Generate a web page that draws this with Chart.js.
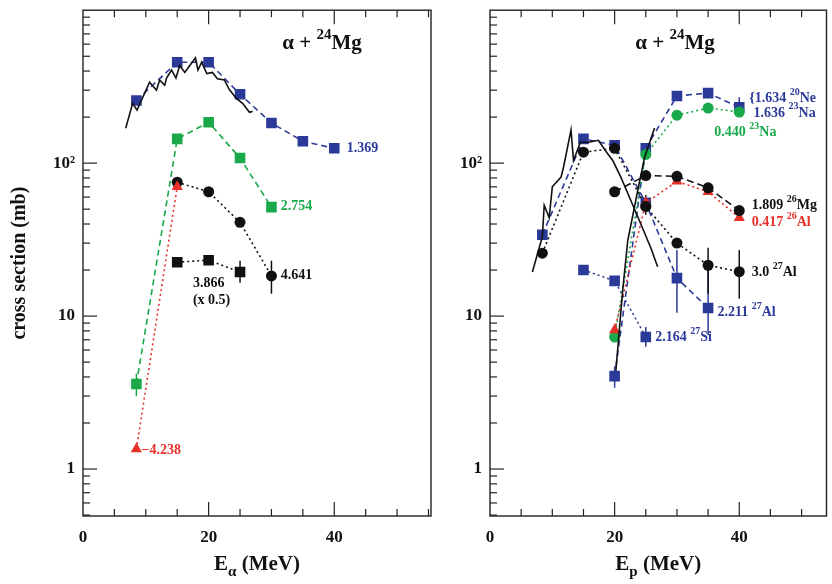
<!DOCTYPE html>
<html><head><meta charset="utf-8">
<script src="https://cdn.jsdelivr.net/npm/chart.js@4/dist/chart.umd.min.js"></script>
<style>
body{margin:0;background:#fff;width:832px;height:584px;position:relative;overflow:hidden}
.p{position:absolute;top:-8px;height:592px}
</style></head><body>
<div class="p" style="left:0;width:440px"><canvas id="c1"></canvas></div>
<div class="p" style="left:440px;width:394px"><canvas id="c2"></canvas></div>
<script>
// ---- Left panel data (alpha + 24Mg) ----
const L_blueX=[8.5,15,20,25,30,35,40], L_blueY=[257,457,457,282,183,139,125];
const L_greenX=[8.5,15,20,25,30], L_greenY=[3.6,144,185,108,51.6];
const L_circX=[15,20,25,30], L_circY=[75,65,41,18.3];
const L_triX=[8.5,15], L_triY=[1.35,70];
const L_sqX=[15,20,25], L_sqY=[22.5,23.2,19.4];
const L_expX=[6.8,7.9,8.6,10.6,11.7,12.2,13.0,13.3,14.1,14.8,15.4,16.2,17.0,17.9,18.3,18.9,19.7,20.6,21.4,22.5,23.3,24.4,25.4,26.5,27];
const L_expY=[169,246,222,338,300,350,323,360,406,360,435,392,435,487,406,457,385,392,356,350,303,265,246,215,218];
// ---- Right panel data (p + ...) ----
const R_ne20X=[20,25,30,35,40], R_ne20Y=[4.05,125,275,287,232];
const R_al27bX=[8.4,15,20,25,30,35], R_al27bY=[34,144,131,55,17.7,11.3];
const R_al27cX=[8.4,15,20,25,30,35,40], R_al27cY=[25.8,118,125,52,30,21.5,19.5];
const R_mg26X=[20,25,30,35,40], R_mg26Y=[65,83,82,69,49];
const R_al26X=[20,25,30,35,40], R_al26Y=[8.1,55,76,65,44];
const R_na23X=[20,25,30,35,40], R_na23Y=[7.3,114,206,229,216];
const R_si27X=[15,20,25], R_si27Y=[20,17,7.3];
const R_exp1X=[6.8,8.4,8.7,9.5,10,11.4,11.8,13,13.4,14.5,15.8,17.4,18.5,19.7,21,22.6,24.2,25.8,26.9];
const R_exp1Y=[19.4,33,53,44,70,81,94,165,104,137,137,141,121,104,81,57,40,28,21];
const R_exp2X=[20.2,21.3,22.1,23.7,24.8,26.4];
const R_exp2Y=[4.4,14.8,31,66,109,170];
const yTicks=[1,10,100];
const xTicks=[0,20,40];

const BLUE='#2b3a98',GREEN='#19a94a',RED='#e6302a',BLK='#111';
const F='"Liberation Serif", "DejaVu Serif", serif';
const zip=(xs,ys)=>xs.map((x,i)=>({x,y:ys[i]}));
const RAD={rect:7.5,circle:5.5,triangle:6.5};
function ds(xs,ys,color,style,dash){
  return {data:zip(xs,ys),showLine:true,borderColor:color,backgroundColor:color,borderWidth:1.6,
    borderDash:dash,pointStyle:style,pointRadius:style?RAD[style]:0,pointBorderWidth:0,fill:false,tension:0};
}
const DOT=[2,3], DASH=[6,4];

function drawRich(ctx,x,y,segs,color){
  ctx.fillStyle=color;ctx.textBaseline='middle';ctx.textAlign='left';
  let cx=x;
  for(const s of segs){
    const t=typeof s==='string'?{t:s}:s;
    const sz=t.sup||t.sub?10:14;
    ctx.font='bold '+sz+'px '+F;
    const dy=t.sup?-6:(t.sub?5:0);
    ctx.fillText(t.t,cx,y+dy);
    cx+=ctx.measureText(t.t).width;
  }
}
function richWidth(ctx,segs,base){
  let w=0;for(const s of segs){const t=typeof s==='string'?{t:s}:s;ctx.font='bold '+((t.sup||t.sub)?Math.round(base*0.7):base)+'px '+F;w+=ctx.measureText(t.t).width;}return w;
}
function drawBig(ctx,cx,y,segs,base){
  const w=richWidth(ctx,segs,base);let x=cx-w/2;ctx.fillStyle='#111';ctx.textBaseline='middle';ctx.textAlign='left';
  for(const s of segs){const t=typeof s==='string'?{t:s}:s;const sz=(t.sup||t.sub)?Math.round(base*0.7):base;
    ctx.font='bold '+sz+'px '+F;ctx.fillText(t.t,x,y+(t.sup?-base*0.4:(t.sub?base*0.35:0)));x+=ctx.measureText(t.t).width;}
}

function panel(id,datasets,xmax,yAxisW,padR,labels,errs,xtitle,showYTitle,titleX){
  const plug={id:'deco'+id,
    beforeDatasetsDraw(ch){
      const c=ch.ctx,xs=ch.scales.x,ys=ch.scales.y;
      c.save();
      for(const e of errs){
        c.strokeStyle=e[3];c.lineWidth=1.5;c.beginPath();
        const px=xs.getPixelForValue(e[0]);c.moveTo(px,ys.getPixelForValue(e[1]));c.lineTo(px,ys.getPixelForValue(e[2]));c.stroke();
      }
      c.restore();
    },
    afterDraw(ch){
      const c=ch.ctx,a=ch.chartArea,xs=ch.scales.x,ys=ch.scales.y;
      c.save();
      c.strokeStyle='#222';c.lineWidth=1.4;c.strokeRect(a.left,a.top,a.right-a.left,a.bottom-a.top);
      c.lineWidth=1.2;
      for(let v=5;v<xmax;v+=5){const p=xs.getPixelForValue(v);const L=(v%20===0)?14:7;
        c.beginPath();c.moveTo(p,a.bottom);c.lineTo(p,a.bottom-L);c.stroke();
        c.beginPath();c.moveTo(p,a.top);c.lineTo(p,a.top+L);c.stroke();}
      for(let d=0.1;d<=1000;d*=10){for(let k=1;k<10;k++){const v=d*k;if(v<=ys.min||v>=ys.max)continue;const p=ys.getPixelForValue(v);const L=k===1?14:7;
        c.beginPath();c.moveTo(a.left,p);c.lineTo(a.left+L,p);c.stroke();}}
      for(const l of labels){drawRich(c,xs.getPixelForValue(l[0]),ys.getPixelForValue(l[1]),l[3],l[2]);}
      drawBig(c,titleX,52,['\u03b1 + ',{t:'24',sup:1},'Mg'],21);
      drawBig(c,(a.left+a.right)/2,573,['E',{t:xtitle,sub:1},' (MeV)'],21);
      if(showYTitle){c.translate(20,(a.top+a.bottom)/2);c.rotate(-Math.PI/2);c.font='bold 20px '+F;c.textAlign='center';c.textBaseline='middle';c.fillStyle='#111';c.fillText('cross section (mb)',0,0);}
      c.restore();
    }};
  return new Chart(document.getElementById(id),{type:'scatter',data:{datasets},
    options:{responsive:true,maintainAspectRatio:false,animation:false,
      layout:{padding:{top:0,right:padR,bottom:0,left:0}},
      plugins:{legend:{display:false},tooltip:{enabled:false}},
      scales:{
        x:{type:'linear',min:0,max:xmax,afterFit(s){s.height=68;},
          afterBuildTicks(s){s.ticks=xTicks.map(v=>({value:v}));},
          grid:{display:false,drawTicks:false},border:{display:false},
          ticks:{padding:11,color:'#111',font:{family:F,size:17,weight:'bold'}}},
        y:{type:'logarithmic',min:0.493,max:1000,afterFit(s){s.width=yAxisW;},
          afterBuildTicks(s){s.ticks=yTicks.map(v=>({value:v}));},
          grid:{display:false,drawTicks:false},border:{display:false},
          ticks:{padding:8,color:'#111',font:{family:F,size:17,weight:'bold'},callback:v=>v===100?'10\u00b2':String(v)}}
      }},plugins:[plug]});
}

panel('c1',[
  ds(L_expX,L_expY,BLK,false,[]),
  ds(L_blueX,L_blueY,BLUE,'rect',DASH),
  ds(L_greenX,L_greenY,GREEN,'rect',DASH),
  ds(L_triX,L_triY,RED,'triangle',DOT),
  ds(L_circX,L_circY,BLK,'circle',DOT),
  ds(L_sqX,L_sqY,BLK,'rect',DOT)
],55.4,83,9,[
  [42,125,BLUE,['1.369']],[31.5,52,GREEN,['2.754']],[31.5,18.5,BLK,['4.641']],
  [17.5,16.4,BLK,['3.866']],[17.5,12.7,BLK,['(x 0.5)']],[9.3,1.33,RED,['\u22124.238']]
],[[8.5,3.0,4.2,GREEN],[30,14,23,BLK],[25,16.5,23,BLK]],'\u03b1',true,322);

panel('c2',[
  ds(R_exp1X,R_exp1Y,BLK,false,[]),
  ds(R_exp2X,R_exp2Y,BLK,false,[]),
  ds(R_al27cX,R_al27cY,BLK,'circle',DOT),
  ds(R_mg26X,R_mg26Y,BLK,'circle',[7,4]),
  ds(R_al26X,R_al26Y,RED,'triangle',DOT),
  ds(R_na23X,R_na23Y,GREEN,'circle',DOT),
  ds(R_al27bX,R_al27bY,BLUE,'rect',DASH),
  ds(R_ne20X,R_ne20Y,BLUE,'rect',DASH),
  ds(R_si27X,R_si27Y,BLUE,'rect',DOT)
],54,50,0,[
  [41.6,265,BLUE,['{1.634 ',{t:'20',sup:1},'Ne']],[42.3,213,BLUE,['1.636 ',{t:'23',sup:1},'Na']],
  [36,158,GREEN,['0.440 ',{t:'23',sup:1},'Na']],[42,53,BLK,['1.809 ',{t:'26',sup:1},'Mg']],
  [42,41,RED,['0.417 ',{t:'26',sup:1},'Al']],[42,19.3,BLK,['3.0 ',{t:'27',sup:1},'Al']],
  [36.5,10.6,BLUE,['2.211 ',{t:'27',sup:1},'Al']],[26.5,7.3,BLUE,['2.164 ',{t:'27',sup:1},'Si']]
],[[30,10.5,27,BLUE],[35,7.5,22,BLUE],[40,13,27,BLK],[35,14,28,BLK],[25,6.3,8.5,BLUE],[20,3.4,4.7,BLUE],[40,200,270,BLUE],[25,46,62,BLK]],'p',false,235);
</script></body></html>
